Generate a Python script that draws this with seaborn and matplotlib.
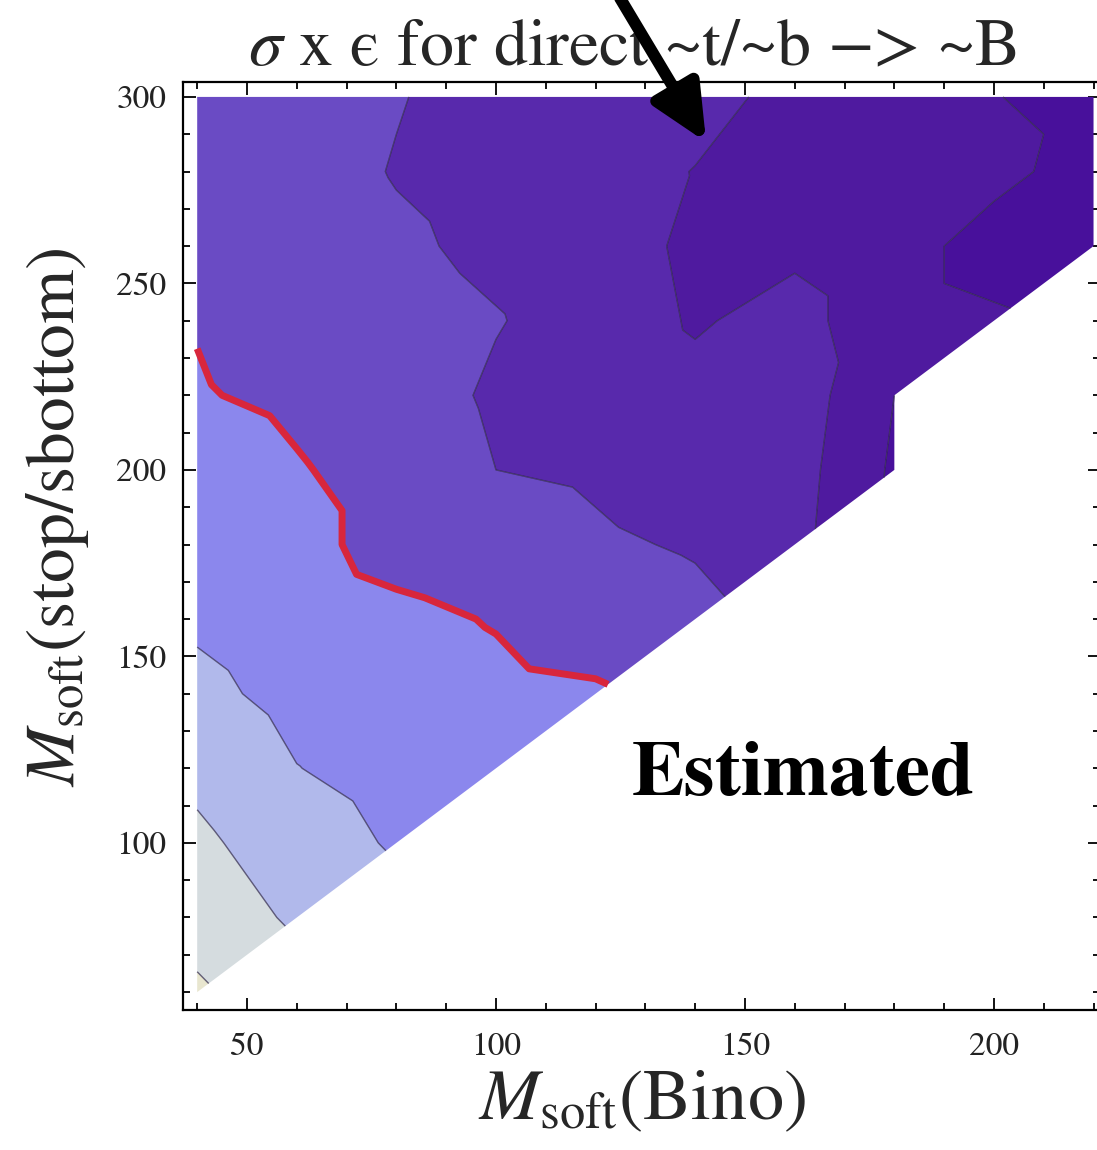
import numpy as np
import matplotlib
matplotlib.use("Agg")
import matplotlib.pyplot as plt
import matplotlib.tri as mtri
from matplotlib.ticker import MultipleLocator
import seaborn as sns

# ==========================================================
# Data: scan grid and sigma x efficiency (in contour-band units)
# ==========================================================

m_bino = [40, 60, 80, 100, 120, 140, 160, 180, 200, 220]
m_stop = [60, 80, 100, 120, 140, 160, 180, 200, 220, 240, 260, 280, 300]

nan = np.nan
# one row per m_stop value, one column per m_bino value (nan = no point)
sigma_eff = [
    [8.15, nan, nan, nan, nan, nan, nan, nan, nan, nan],
    [7.60, 6.85, nan, nan, nan, nan, nan, nan, nan, nan],
    [7.20, 6.45, 5.90, nan, nan, nan, nan, nan, nan, nan],
    [6.75, 6.02, 5.65, 5.50, nan, nan, nan, nan, nan, nan],
    [6.25, 5.70, 5.40, 5.20, 5.10, nan, nan, nan, nan, nan],
    [5.85, 5.45, 5.20, 4.95, 4.60, 4.30, nan, nan, nan, nan],
    [5.60, 5.25, 4.70, 4.50, 4.15, 3.90, 3.30, nan, nan, nan],
    [5.40, 5.06, 4.70, 4.00, 3.85, 3.50, 3.40, 1.85, nan, nan],
    [5.05, 4.85, 4.50, 3.85, 3.70, 3.30, 3.55, 2.00, nan, nan],
    [4.97, 4.70, 4.35, 4.05, 3.60, 2.90, 3.35, 2.30, 2.10, nan],
    [4.70, 4.55, 4.15, 3.80, 3.50, 2.80, 2.80, 2.30, 1.70, 1.50],
    [4.50, 4.40, 3.95, 3.70, 3.45, 2.97, 2.65, 2.40, 2.20, 1.70],
    [4.35, 4.25, 4.05, 3.65, 3.40, 3.35, 2.70, 2.40, 2.02, 1.80],
]

band_levels = [0, 2, 3, 4, 5, 6, 7, 8, 9]
band_colors = ["#48109b", "#4f1a9f", "#5829ac", "#6a4bc4",
               "#8b87ed", "#b1b9eb", "#d5dcdf", "#e8e6cf"]
line_levels = [2, 3, 4, 6, 7, 8]
limit_level = [5]

title = "$\\sigma$ x \u03f5 for direct ~t/~b \u2212> ~B"

# ==========================================================
# Style
# ==========================================================

sns.set_theme(style="ticks")
plt.rcParams["font.family"] = ["STIXGeneral", "DejaVu Serif"]
plt.rcParams["mathtext.fontset"] = "stix"

# ==========================================================
# Triangulate the grid (split squares parallel to the diagonal)
# ==========================================================

X, Y = np.meshgrid(m_bino, m_stop)
Z = np.array(sigma_eff)
nx, ny = len(m_bino), len(m_stop)
zflat = Z.ravel()

tris = []
for j in range(ny - 1):
    for i in range(nx - 1):
        a, b = j * nx + i, j * nx + i + 1
        c, d = (j + 1) * nx + i, (j + 1) * nx + i + 1
        for t in ([a, b, d], [a, c, d]):
            if np.isfinite(zflat[t]).all():
                tris.append(t)

tri = mtri.Triangulation(X.ravel().astype(float), Y.ravel().astype(float), tris)
z = np.where(np.isfinite(zflat), zflat, 0.0)

# ==========================================================
# Plot
# ==========================================================

fig = plt.figure(figsize=(10.97, 11.5), dpi=100)
ax = fig.add_axes([183 / 1097, 140 / 1150, 917 / 1097, 928 / 1150])

ax.tricontourf(tri, z, levels=band_levels, colors=band_colors, antialiased=True)
ax.tricontour(tri, z, levels=line_levels, colors="#2c2448", linewidths=1.0, alpha=0.7)
ax.tricontour(tri, z, levels=limit_level, colors="#d8263c", linewidths=5)

ax.set_xlim(37.15, 221.3)
ax.set_ylim(55.2, 304.0)

ax.xaxis.set_major_locator(MultipleLocator(50))
ax.xaxis.set_minor_locator(MultipleLocator(10))
ax.yaxis.set_major_locator(MultipleLocator(50))
ax.yaxis.set_minor_locator(MultipleLocator(10))
ax.tick_params(which="both", direction="in", top=True, right=True,
               width=1.3, color="black", labelcolor="#222222")
ax.tick_params(which="major", length=9)
ax.tick_params(which="minor", length=5)
ax.tick_params(axis="x", pad=16, labelsize=24)
ax.tick_params(axis="y", pad=12, labelsize=24)
for sp in ax.spines.values():
    sp.set_linewidth(1.6)
    sp.set_color("black")

ax.set_title(title, fontsize=49, pad=12, x=0.49)
ax.set_xlabel(r"$M_{\mathrm{soft}}$(Bino)", fontsize=52)
ax.set_ylabel(r"$M_{\mathrm{soft}}$(stop/sbottom)", fontsize=50)
ax.xaxis.set_label_coords(0.5, -0.065)
ax.yaxis.set_label_coords(-0.1, 0.531)

ax.text(161.6, 112.9, "Estimated", ha="center", va="baseline",
        fontsize=57, fontweight="bold", color="black")

ax.annotate("", xy=(142.2, 287.9), xytext=(124.9, 326.5),
            xycoords="data", annotation_clip=False, zorder=10,
            arrowprops=dict(arrowstyle="-|>,head_length=0.75,head_width=0.35",
                            mutation_scale=45, lw=8.5, color="black",
                            shrinkA=0, shrinkB=0))

fig.savefig("out.png", dpi=100)
